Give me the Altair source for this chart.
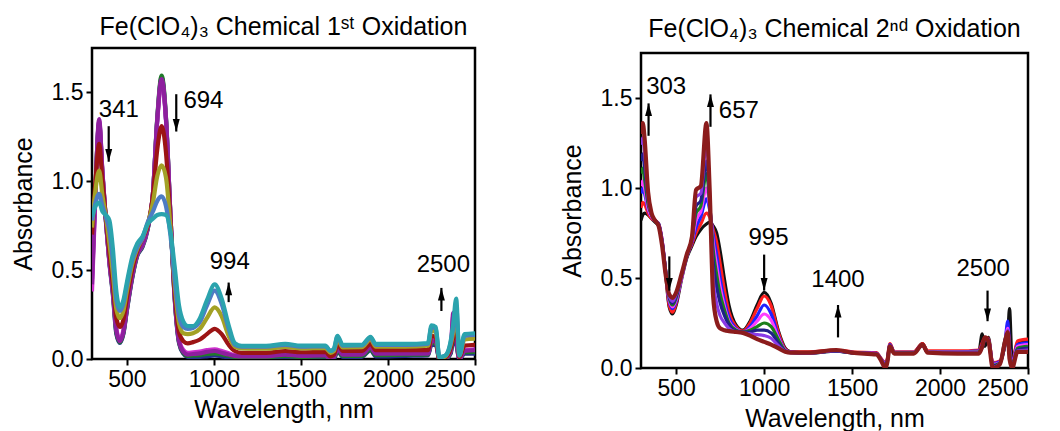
import altair as alt
import pandas as pd

FONT = "Liberation Sans"

# ---------------- Left panel: 1st oxidation ----------------
L_WL = [300, 320, 341, 360, 380, 400, 420, 440, 460, 480, 500, 530, 560, 590, 620, 650, 675, 700, 725, 750,
        775, 800, 825, 850, 880, 920, 960, 1005, 1045, 1085, 1120, 1160, 1300, 1410, 1500, 1640, 1670, 1690, 1710, 1740,
        1850, 1900, 1930, 2100, 2230, 2250, 2275, 2295, 2330, 2360, 2375, 2392, 2410, 2440, 2500]

L_NAVY = [0.45, 0.96, 1.33, 1.04, 0.77, 0.54, 0.36, 0.14, 0.09, 0.14, 0.27, 0.45, 0.58, 0.63, 0.73, 0.93, 1.35, 1.585, 1.35, 0.82,
          0.34, 0.09, 0.03, 0.012, 0.012, 0.012, 0.015, 0.02, 0.015, 0.01, 0.007, 0.005, 0.005, 0.012, 0.006, 0.008, 0.0, 0.0, 0.045, 0.012,
          0.012, 0.05, 0.015, 0.018, 0.02, 0.08, 0.08, 0.0, 0.0, 0.03, 0.1, 0.08, 0.0, 0.03, 0.03]
L_GREEN = [0.50, 0.97, 1.32, 1.04, 0.78, 0.55, 0.37, 0.15, 0.095, 0.145, 0.275, 0.455, 0.585, 0.635, 0.735, 0.93, 1.36, 1.595, 1.36, 0.82,
           0.345, 0.095, 0.035, 0.018, 0.02, 0.022, 0.028, 0.032, 0.025, 0.018, 0.012, 0.01, 0.01, 0.018, 0.012, 0.014, 0.0, 0.005, 0.05, 0.018,
           0.018, 0.055, 0.022, 0.024, 0.025, 0.09, 0.09, 0.0, 0.0, 0.035, 0.12, 0.1, 0.0, 0.038, 0.04]
L_MAGENTA = [0.38, 0.93, 1.34, 1.05, 0.78, 0.55, 0.38, 0.17, 0.11, 0.16, 0.29, 0.47, 0.59, 0.64, 0.74, 0.93, 1.34, 1.565, 1.34, 0.82,
             0.36, 0.11, 0.05, 0.035, 0.038, 0.042, 0.05, 0.055, 0.045, 0.032, 0.022, 0.02, 0.02, 0.03, 0.022, 0.024, 0.005, 0.015, 0.065, 0.03,
             0.03, 0.07, 0.035, 0.035, 0.035, 0.11, 0.105, 0.0, 0.008, 0.05, 0.24, 0.14, 0.0, 0.05, 0.055]
L_PURPLE = [0.42, 0.95, 1.35, 1.05, 0.78, 0.55, 0.38, 0.16, 0.10, 0.15, 0.28, 0.46, 0.59, 0.64, 0.74, 0.93, 1.35, 1.575, 1.35, 0.82,
            0.35, 0.10, 0.04, 0.025, 0.028, 0.032, 0.04, 0.045, 0.035, 0.025, 0.018, 0.015, 0.015, 0.025, 0.018, 0.02, 0.0, 0.01, 0.06, 0.025,
            0.025, 0.065, 0.03, 0.03, 0.03, 0.1, 0.1, 0.0, 0.005, 0.04, 0.26, 0.12, 0.0, 0.045, 0.05]
L_DARKRED = [0.70, 1.00, 1.21, 1.00, 0.79, 0.60, 0.42, 0.23, 0.18, 0.22, 0.34, 0.50, 0.61, 0.68, 0.75, 0.92, 1.18, 1.31, 1.16, 0.78,
             0.38, 0.15, 0.10, 0.088, 0.095, 0.11, 0.14, 0.17, 0.14, 0.08, 0.045, 0.035, 0.035, 0.045, 0.038, 0.04, 0.015, 0.025, 0.085, 0.045,
             0.045, 0.085, 0.05, 0.05, 0.05, 0.13, 0.12, 0.0, 0.01, 0.06, 0.12, 0.2, 0.01, 0.075, 0.08]
L_OLIVE = [0.74, 0.95, 1.06, 0.92, 0.80, 0.65, 0.48, 0.28, 0.23, 0.27, 0.38, 0.53, 0.62, 0.68, 0.76, 0.88, 1.03, 1.09, 1.02, 0.75,
           0.42, 0.20, 0.145, 0.14, 0.145, 0.17, 0.23, 0.29, 0.24, 0.13, 0.07, 0.06, 0.058, 0.068, 0.06, 0.062, 0.035, 0.045, 0.11, 0.065,
           0.066, 0.11, 0.07, 0.07, 0.075, 0.16, 0.15, 0.005, 0.015, 0.08, 0.15, 0.25, 0.02, 0.11, 0.115]
L_STEEL = [0.78, 0.88, 0.93, 0.86, 0.80, 0.72, 0.55, 0.33, 0.27, 0.31, 0.41, 0.55, 0.63, 0.68, 0.77, 0.83, 0.89, 0.915, 0.86, 0.70,
           0.45, 0.24, 0.18, 0.17, 0.175, 0.21, 0.30, 0.385, 0.31, 0.17, 0.08, 0.07, 0.07, 0.08, 0.07, 0.072, 0.045, 0.055, 0.125, 0.075,
           0.076, 0.12, 0.08, 0.08, 0.085, 0.18, 0.17, 0.01, 0.02, 0.09, 0.18, 0.30, 0.02, 0.13, 0.135]
L_TEAL = [0.80, 0.86, 0.88, 0.83, 0.81, 0.78, 0.62, 0.38, 0.29, 0.33, 0.43, 0.57, 0.65, 0.69, 0.76, 0.79, 0.81, 0.815, 0.81, 0.72,
          0.52, 0.30, 0.21, 0.185, 0.185, 0.23, 0.33, 0.42, 0.34, 0.19, 0.09, 0.074, 0.074, 0.085, 0.075, 0.076, 0.045, 0.06, 0.13, 0.08,
          0.08, 0.125, 0.085, 0.085, 0.09, 0.19, 0.18, 0.01, 0.02, 0.10, 0.20, 0.34, 0.02, 0.14, 0.145]

L_SERIES = [
    ("navy", "#25308f", L_NAVY),
    ("green", "#1f7a2a", L_GREEN),
    ("magenta", "#cc2fcc", L_MAGENTA),
    ("purple", "#8e1f9e", L_PURPLE),
    ("darkred", "#9c1414", L_DARKRED),
    ("olive", "#a3a125", L_OLIVE),
    ("steel", "#4d7cc4", L_STEEL),
    ("teal", "#2ba3ad", L_TEAL),
]

L_LABEL_TEXT = ["341", "694", "994", "2500"]
L_LABEL_WL = [454, 940, 1091, 2318]
L_LABEL_A = [1.40, 1.45, 0.545, 0.53]
L_ARROW_WL = [396, 784, 1085, 2307]
L_ARROW_TAIL = [1.31, 1.49, 0.32, 0.27]
L_ARROW_TIP = [1.11, 1.28, 0.43, 0.40]

# ---------------- Right panel: 2nd oxidation ----------------
R_WL = [300, 310, 320, 340, 360, 380, 400, 420, 440, 460, 480, 500, 530, 560, 590, 613, 640, 672, 690, 710,
        730, 750, 775, 800, 840, 880, 920, 960, 1000, 1040, 1080, 1120, 1150, 1250, 1410, 1500, 1640, 1660, 1690, 1700,
        1715, 1740, 1850, 1900, 1930, 2100, 2220, 2240, 2255, 2275, 2300, 2340, 2370, 2385, 2395, 2410, 2440, 2500]

R_BLACK = [0.82, 0.85, 0.86, 0.85, 0.83, 0.81, 0.79, 0.70, 0.52, 0.34, 0.30, 0.35, 0.49, 0.61, 0.68, 0.73, 0.77, 0.80, 0.81, 0.79,
           0.75, 0.65, 0.49, 0.35, 0.24, 0.21, 0.26, 0.35, 0.42, 0.36, 0.21, 0.11, 0.09, 0.085, 0.095, 0.085, 0.08, 0.055, 0.02, 0.04,
           0.13, 0.085, 0.085, 0.135, 0.09, 0.09, 0.09, 0.19, 0.12, 0.17, 0.02, 0.03, 0.16, 0.2, 0.33, 0.03, 0.14, 0.15]
R_RED = [0.89, 0.92, 0.91, 0.86, 0.83, 0.82, 0.80, 0.71, 0.53, 0.35, 0.31, 0.36, 0.50, 0.62, 0.69, 0.75, 0.80, 0.86, 0.84, 0.77,
         0.70, 0.58, 0.43, 0.31, 0.23, 0.205, 0.25, 0.33, 0.40, 0.345, 0.20, 0.105, 0.09, 0.09, 0.10, 0.09, 0.085, 0.06, 0.03, 0.05,
         0.135, 0.09, 0.09, 0.135, 0.095, 0.095, 0.10, 0.14, 0.17, 0.165, 0.03, 0.04, 0.14, 0.24, 0.10, 0.03, 0.15, 0.16]
R_BLUE = [0.97, 1.00, 0.97, 0.88, 0.84, 0.82, 0.80, 0.71, 0.54, 0.37, 0.33, 0.37, 0.50, 0.62, 0.70, 0.78, 0.84, 0.94, 0.88, 0.74,
          0.63, 0.50, 0.37, 0.28, 0.22, 0.20, 0.23, 0.29, 0.35, 0.30, 0.18, 0.10, 0.088, 0.085, 0.097, 0.087, 0.082, 0.057, 0.025, 0.045,
          0.13, 0.087, 0.087, 0.13, 0.09, 0.09, 0.095, 0.13, 0.165, 0.16, 0.025, 0.035, 0.15, 0.26, 0.12, 0.025, 0.13, 0.14]
R_MAGENTA = [1.01, 1.04, 1.00, 0.89, 0.84, 0.82, 0.80, 0.71, 0.54, 0.38, 0.34, 0.38, 0.50, 0.62, 0.71, 0.82, 0.87, 1.00, 0.90, 0.70,
             0.57, 0.45, 0.34, 0.26, 0.215, 0.20, 0.22, 0.26, 0.30, 0.265, 0.17, 0.098, 0.087, 0.083, 0.095, 0.085, 0.08, 0.055, 0.02, 0.04,
             0.125, 0.085, 0.085, 0.128, 0.088, 0.088, 0.09, 0.125, 0.16, 0.155, 0.02, 0.03, 0.14, 0.22, 0.10, 0.02, 0.12, 0.13]
R_GREEN = [1.08, 1.11, 1.05, 0.91, 0.85, 0.82, 0.80, 0.70, 0.54, 0.39, 0.35, 0.39, 0.51, 0.62, 0.72, 0.86, 0.90, 1.08, 0.92, 0.66,
           0.52, 0.41, 0.32, 0.25, 0.21, 0.20, 0.21, 0.23, 0.25, 0.23, 0.16, 0.096, 0.086, 0.082, 0.094, 0.084, 0.079, 0.054, 0.015, 0.038,
           0.123, 0.084, 0.084, 0.127, 0.087, 0.087, 0.088, 0.12, 0.16, 0.15, 0.015, 0.028, 0.13, 0.20, 0.09, 0.015, 0.11, 0.12]
R_NAVY = [1.15, 1.19, 1.12, 0.93, 0.85, 0.82, 0.80, 0.70, 0.54, 0.40, 0.36, 0.40, 0.51, 0.62, 0.72, 0.90, 0.93, 1.15, 0.94, 0.60,
          0.45, 0.36, 0.29, 0.24, 0.205, 0.20, 0.20, 0.21, 0.21, 0.195, 0.14, 0.094, 0.085, 0.082, 0.094, 0.084, 0.078, 0.053, 0.01, 0.035,
          0.122, 0.083, 0.083, 0.126, 0.086, 0.086, 0.086, 0.115, 0.16, 0.15, 0.01, 0.025, 0.13, 0.20, 0.08, 0.01, 0.10, 0.11]
R_VIOLET = [1.24, 1.28, 1.20, 0.95, 0.85, 0.82, 0.80, 0.69, 0.53, 0.40, 0.37, 0.41, 0.51, 0.62, 0.72, 0.95, 0.97, 1.25, 0.97, 0.50,
            0.36, 0.29, 0.25, 0.22, 0.20, 0.195, 0.19, 0.185, 0.18, 0.165, 0.125, 0.092, 0.085, 0.083, 0.097, 0.085, 0.077, 0.052, 0.005, 0.032,
            0.121, 0.082, 0.082, 0.128, 0.086, 0.084, 0.084, 0.118, 0.165, 0.15, 0.005, 0.022, 0.14, 0.21, 0.07, 0.005, 0.095, 0.10]
R_MAROON = [1.30, 1.36, 1.28, 0.98, 0.86, 0.82, 0.79, 0.68, 0.52, 0.41, 0.39, 0.42, 0.52, 0.63, 0.73, 0.99, 1.01, 1.36, 1.00, 0.40,
            0.26, 0.22, 0.21, 0.205, 0.20, 0.195, 0.18, 0.16, 0.145, 0.13, 0.11, 0.09, 0.085, 0.085, 0.10, 0.085, 0.075, 0.05, 0.0, 0.03,
            0.12, 0.08, 0.08, 0.13, 0.085, 0.08, 0.08, 0.12, 0.17, 0.15, 0.0, 0.02, 0.15, 0.20, 0.05, 0.0, 0.09, 0.09]

R_SERIES = [
    ("black", "#111111", R_BLACK),
    ("red", "#ff1f1f", R_RED),
    ("blue", "#2020ff", R_BLUE),
    ("magenta", "#ff3cff", R_MAGENTA),
    ("green", "#1b7f1b", R_GREEN),
    ("navy", "#202088", R_NAVY),
    ("violet", "#8a3ae6", R_VIOLET),
    ("maroon", "#8b1c1c", R_MAROON),
]

R_LABEL_TEXT = ["303", "657", "995", "1400", "2500"]
R_LABEL_WL = [443, 856, 1025, 1420, 2245]
R_LABEL_A = [1.56, 1.43, 0.725, 0.49, 0.55]
R_ARROW_WL = [343, 695, 461, 1000, 1420, 2270]
R_ARROW_TAIL = [1.29, 1.34, 0.62, 0.63, 0.17, 0.43]
R_ARROW_TIP = [1.47, 1.52, 0.43, 0.43, 0.35, 0.26]

X_TICKS = [500, 1000, 1500, 2000, 2500]
Y_TICKS = [0.0, 0.5, 1.0, 1.5]

TITLE_1 = "Fe(ClO\u2084)\u2083 Chemical 1\u02e2\u1d57 Oxidation"
TITLE_2 = "Fe(ClO\u2084)\u2083 Chemical 2\u207f\u1d48 Oxidation"

FRAME = alt.ViewConfig(stroke="black", strokeWidth=2.5)


def title_params(text, offset):
    return alt.TitleParams(text=text, font=FONT, fontSize=25, fontWeight="normal",
                           color="black", anchor="middle", offset=offset)


def xy():
    x = alt.X("wl:Q", title="Wavelength, nm",
              scale=alt.Scale(domain=[300, 2500], nice=False, zero=False),
              axis=alt.Axis(values=X_TICKS, format="d"))
    y = alt.Y("a:Q", title="Absorbance",
              scale=alt.Scale(domain=[0, 1.75], nice=False),
              axis=alt.Axis(values=Y_TICKS, format=".1f"))
    return x, y


def panel(wl, series, stroke_w, lab_text, lab_wl, lab_a, arr_wl, arr_tail, arr_tip, width, height):
    x, y = xy()
    layers = []
    for name, color, vals in series:
        assert len(vals) == len(wl), name
        df = pd.DataFrame({"wl": wl, "a": vals})
        sw = stroke_w(name)
        layers.append(
            alt.Chart(df).mark_line(color=color, strokeWidth=sw, interpolate="monotone", clip=True)
            .encode(x=x, y=y)
        )
    ldf = pd.DataFrame({"wl": lab_wl, "a": lab_a, "t": lab_text})
    layers.append(
        alt.Chart(ldf).mark_text(font=FONT, fontSize=24, color="black", baseline="middle", align="center")
        .encode(x=x, y=y, text="t:N")
    )
    adf = pd.DataFrame({"wl": arr_wl, "a": arr_tail, "a2": arr_tip,
                        "up": [tp > tl for tl, tp in zip(arr_tail, arr_tip)]})
    layers.append(
        alt.Chart(adf).mark_rule(color="black", strokeWidth=2.2)
        .encode(x=x, y=y, y2="a2:Q")
    )
    head_up = "M-0.55,1L0.55,1L0,-1Z"
    head_down = "M-0.55,-1L0.55,-1L0,1Z"
    layers.append(
        alt.Chart(adf).transform_filter("datum.up").mark_point(
            shape=head_up, filled=True, color="black", size=160, opacity=1, yOffset=6.3)
        .encode(x=x, y=alt.Y("a2:Q", scale=alt.Scale(domain=[0, 1.75], nice=False)))
    )
    layers.append(
        alt.Chart(adf).transform_filter("!datum.up").mark_point(
            shape=head_down, filled=True, color="black", size=160, opacity=1, yOffset=-6.3)
        .encode(x=x, y=alt.Y("a2:Q", scale=alt.Scale(domain=[0, 1.75], nice=False)))
    )
    return alt.layer(*layers).properties(width=width, height=height, view=FRAME)


left = panel(L_WL, L_SERIES, lambda n: 4.2, L_LABEL_TEXT, L_LABEL_WL, L_LABEL_A,
             L_ARROW_WL, L_ARROW_TAIL, L_ARROW_TIP, 383, 311).properties(title=title_params(TITLE_1, 8))
right = panel(R_WL, R_SERIES, lambda n: 4.2 if n == "maroon" else 3.2, R_LABEL_TEXT, R_LABEL_WL, R_LABEL_A,
              R_ARROW_WL, R_ARROW_TAIL, R_ARROW_TIP, 387, 315)

# invisible strip that carries the right title and lowers the right panel a few pixels
spacer = alt.Chart(pd.DataFrame({"v": [0]})).mark_point(opacity=0).encode(
    x=alt.value(0), y=alt.value(0)
).properties(width=387, height=1, view=alt.ViewConfig(strokeOpacity=0, strokeWidth=0),
             title=title_params(TITLE_2, 3))

right_col = alt.vconcat(spacer, right, spacing=0)

chart = alt.hconcat(left, right_col, spacing=80).properties(
    padding={"left": 9, "top": 13, "right": 0, "bottom": 0},
    background="white",
).configure_axis(
    grid=False, domain=False,
    tickColor="black", tickWidth=2, tickSize=6,
    labelFont=FONT, labelFontSize=23, labelColor="black", labelPadding=3,
    titleFont=FONT, titleFontSize=25, titleFontWeight="normal", titleColor="black",
).configure_axisX(titlePadding=6, labelPadding=3).configure_axisY(titlePadding=15)

chart.save("out.html", embed_options={"renderer": "svg", "actions": False})
